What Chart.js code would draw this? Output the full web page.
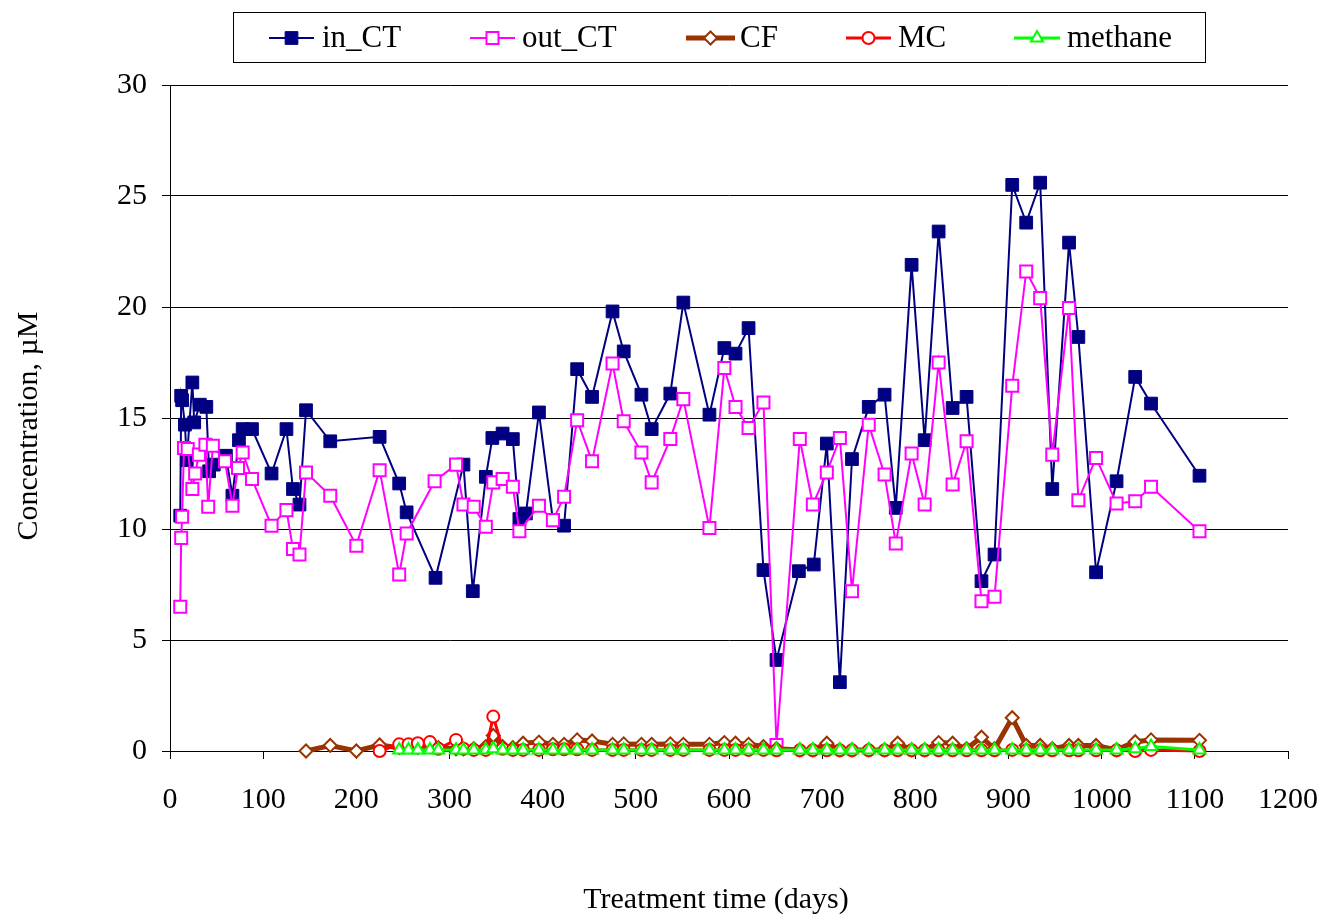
<!DOCTYPE html>
<html><head><meta charset="utf-8">
<script src="https://cdn.jsdelivr.net/npm/chart.js@4.4.1/dist/chart.umd.min.js"></script>
<style>html,body{margin:0;padding:0;background:#fff}canvas{display:block}</style>
</head><body>
<canvas id="c" width="1327" height="918"></canvas>
<script>
// ---------- data ----------
const seriesNames = ['in_CT', 'out_CT', 'CF', 'MC', 'methane'];
const xTickValues = [0, 100, 200, 300, 400, 500, 600, 700, 800, 900, 1000, 1100, 1200];
const yTickValues = [0, 5, 10, 15, 20, 25, 30];
const xTitle = 'Treatment time (days)';
const yTitle = 'Concentration, \u00b5M';

const inDays = [11, 12, 13, 16, 18, 24, 26, 32, 39, 42, 47, 60, 67, 74, 78, 88, 109, 125, 132, 139, 146, 172, 225, 246, 254, 285, 315, 325, 339, 346, 357, 368, 375, 382, 396, 411, 423, 437, 453, 475, 487, 506, 517, 537, 551, 579, 595, 607, 621, 637, 651, 675, 691, 705, 719, 732, 750, 767, 779, 796, 810, 825, 840, 855, 871, 885, 904, 919, 934, 947, 965, 975, 994, 1016, 1036, 1053, 1105];
const inCT = [10.6, 16.0, 15.8, 14.7, 13.1, 16.6, 14.8, 15.6, 15.5, 12.6, 12.9, 13.3, 11.5, 14.0, 14.5, 14.5, 12.5, 14.5, 11.8, 11.1, 15.35, 13.95, 14.15, 12.05, 10.75, 7.8, 12.9, 7.2, 12.35, 14.1, 14.3, 14.05, 10.45, 10.7, 15.25, 10.4, 10.15, 17.2, 15.95, 19.8, 18.0, 16.05, 14.5, 16.1, 20.2, 15.15, 18.15, 17.9, 19.05, 8.15, 4.1, 8.1, 8.4, 13.85, 3.1, 13.15, 15.5, 16.05, 10.95, 21.9, 14.0, 23.4, 15.45, 15.95, 7.65, 8.85, 25.5, 23.8, 25.6, 11.8, 22.9, 18.65, 8.05, 12.15, 16.85, 15.65, 12.4];

const outDays = [11, 12, 13, 15, 19, 24, 27, 31, 38, 41, 46, 59, 67, 73, 78, 88, 109, 125, 132, 139, 146, 172, 200, 225, 246, 254, 284, 307, 315, 326, 339, 347, 357, 368, 375, 396, 411, 423, 437, 453, 475, 487, 506, 517, 537, 551, 579, 595, 607, 621, 637, 651, 676, 690, 705, 719, 732, 750, 767, 779, 796, 810, 825, 840, 855, 871, 885, 904, 919, 934, 947, 965, 975, 994, 1016, 1036, 1053, 1105];
const outCT = [6.5, 9.6, 10.55, 13.65, 13.6, 11.8, 12.5, 13.35, 13.8, 11.0, 13.75, 13.05, 11.05, 12.75, 13.45, 12.25, 10.15, 10.85, 9.1, 8.85, 12.55, 11.5, 9.25, 12.65, 7.95, 9.8, 12.15, 12.9, 11.1, 11.0, 10.1, 12.1, 12.25, 11.9, 9.9, 11.05, 10.4, 11.45, 14.9, 13.05, 17.45, 14.85, 13.45, 12.1, 14.05, 15.85, 10.05, 17.25, 15.5, 14.55, 15.7, 0.27, 14.05, 11.1, 12.55, 14.1, 7.2, 14.7, 12.45, 9.35, 13.4, 11.1, 17.5, 12.0, 13.95, 6.75, 6.95, 16.45, 21.6, 20.4, 13.35, 19.95, 11.3, 13.2, 11.15, 11.25, 11.9, 9.9];

const minorDays = [225, 246, 256, 266, 279, 288, 307, 315, 326, 339, 347, 357, 368, 379, 396, 411, 423, 437, 453, 475, 487, 506, 517, 537, 551, 579, 595, 607, 621, 637, 651, 676, 690, 705, 719, 732, 750, 767, 781, 796, 810, 825, 840, 855, 871, 885, 904, 919, 934, 947, 965, 975, 994, 1016, 1036, 1053, 1105];
const cfEarlyDays = [146, 172, 200];
const cfEarly = [0, 0.25, 0];
const cf = [0.27, 0.15, 0.2, 0.15, 0.2, 0.15, 0.1, 0.1, 0.1, 0.2, 0.7, 0.2, 0.15, 0.35, 0.4, 0.3, 0.3, 0.5, 0.45, 0.3, 0.32, 0.3, 0.3, 0.32, 0.3, 0.3, 0.38, 0.35, 0.3, 0.2, 0.1, 0.05, 0.05, 0.35, 0.05, 0.05, 0.05, 0.05, 0.35, 0.05, 0.05, 0.38, 0.35, 0.1, 0.62, 0.1, 1.5, 0.25, 0.25, 0.1, 0.25, 0.25, 0.25, 0.05, 0.42, 0.5, 0.48];
const mc = [0, 0.3, 0.3, 0.35, 0.4, 0.1, 0.5, 0.1, 0.05, 0.05, 1.55, 0.1, 0.05, 0.05, 0.05, 0.08, 0.08, 0.08, 0.05, 0.05, 0.05, 0.05, 0.05, 0.05, 0.05, 0.05, 0.05, 0.05, 0.05, 0.05, 0.03, 0.03, 0.03, 0.03, 0.03, 0.03, 0.03, 0.03, 0.03, 0.03, 0.03, 0.03, 0.03, 0.03, 0.03, 0.03, 0.05, 0.03, 0.03, 0.03, 0.03, 0.03, 0.03, 0.03, 0, 0.05, 0];
const methane = [null, 0.05, 0.05, 0.05, 0.05, 0.05, 0.05, 0.05, 0.05, 0.05, 0.1, 0.05, 0.05, 0.05, 0.05, 0.05, 0.05, 0.05, 0.05, 0.05, 0.05, 0.05, 0.05, 0.05, 0.05, 0.05, 0.05, 0.05, 0.05, 0.05, 0.05, 0.05, 0.05, 0.05, 0.05, 0.05, 0.05, 0.05, 0.05, 0.05, 0.05, 0.05, 0.05, 0.05, 0.05, 0.05, 0.05, 0.05, 0.05, 0.05, 0.05, 0.05, 0.05, 0.05, 0.1, 0.2, 0.05];

// ---------- build ----------
function pairs(xs, ys) { return xs.map((x, i) => ({x: x, y: ys[i]})); }
const FONT = '"Liberation Serif", "Times New Roman", serif';

const styles = [
  {color: '#000080', fill: '#000080', lw: 2, ps: 'rect', r: 9, bw: 1, order: 5},
  {color: '#FF00FF', fill: '#FFFFFF', lw: 2, ps: 'rect', r: 8.5, bw: 2, order: 4},
  {color: '#993300', fill: '#FFFFFF', lw: 5, ps: 'rectRot', r: 6.5, bw: 2, order: 3},
  {color: '#FF0000', fill: '#FFFFFF', lw: 3, ps: 'circle', r: 6, bw: 2, order: 2},
  {color: '#00FF00', fill: '#FFFFFF', lw: 3, ps: 'triangle', r: 7, bw: 2, order: 1}
];
const seriesData = [
  pairs(inDays, inCT),
  pairs(outDays, outCT),
  pairs(cfEarlyDays.concat(minorDays), cfEarly.concat(cf)),
  pairs(minorDays, mc),
  pairs(minorDays, methane)
];

const datasets = seriesNames.map((name, i) => {
  const s = styles[i];
  return {
    label: name, data: seriesData[i], order: s.order,
    borderColor: s.color, backgroundColor: s.fill, borderWidth: s.lw,
    pointStyle: s.ps, pointRadius: s.r, pointBorderWidth: s.bw,
    pointBorderColor: s.color, pointBackgroundColor: s.fill,
    pointHoverRadius: s.r, tension: 0, clip: false, spanGaps: false
  };
});

function drawMarker(ctx, s, x, y) {
  ctx.save();
  ctx.fillStyle = s.fill; ctx.strokeStyle = s.color; ctx.lineWidth = s.bw;
  ctx.beginPath();
  const r = s.r;
  if (s.ps === 'rect') {
    const h = Math.SQRT1_2 * r;
    ctx.rect(x - h, y - h, 2 * h, 2 * h);
  } else if (s.ps === 'rectRot') {
    ctx.moveTo(x, y - r); ctx.lineTo(x + r, y); ctx.lineTo(x, y + r); ctx.lineTo(x - r, y); ctx.closePath();
  } else if (s.ps === 'circle') {
    ctx.arc(x, y, r, 0, Math.PI * 2);
  } else {
    ctx.moveTo(x, y - r);
    ctx.lineTo(x + r * Math.sin(2 * Math.PI / 3), y - r * Math.cos(2 * Math.PI / 3));
    ctx.lineTo(x + r * Math.sin(4 * Math.PI / 3), y - r * Math.cos(4 * Math.PI / 3));
    ctx.closePath();
  }
  ctx.fill(); ctx.stroke();
  ctx.restore();
}

const legendSlots = [
  {x1: 269, x2: 314, tx: 322},
  {x1: 470, x2: 515, tx: 522},
  {x1: 686, x2: 735, tx: 740},
  {x1: 846, x2: 891, tx: 898},
  {x1: 1014, x2: 1060, tx: 1067}
];

const decor = {
  id: 'decor',
  afterDraw(chart) {
    const ctx = chart.ctx;
    ctx.save();
    // legend box
    ctx.fillStyle = '#fff'; ctx.fillRect(233.5, 12.5, 972, 50);
    ctx.strokeStyle = '#000'; ctx.lineWidth = 1; ctx.strokeRect(233.5, 12.5, 972, 50);
    const ly = 38;
    seriesNames.forEach((name, i) => {
      const s = styles[i], slot = legendSlots[i];
      ctx.strokeStyle = s.color; ctx.lineWidth = s.lw; ctx.lineCap = 'butt';
      ctx.beginPath(); ctx.moveTo(slot.x1, ly); ctx.lineTo(slot.x2, ly); ctx.stroke();
      drawMarker(ctx, s, (slot.x1 + slot.x2) / 2, ly);
      ctx.fillStyle = '#000'; ctx.font = '31px ' + FONT;
      ctx.textAlign = 'left'; ctx.textBaseline = 'middle';
      ctx.fillText(name, slot.tx, ly + 1);
    });
    // axis titles
    ctx.fillStyle = '#000'; ctx.font = '30px ' + FONT;
    ctx.textAlign = 'center'; ctx.textBaseline = 'middle';
    ctx.fillText(xTitle, 716, 900);
    ctx.translate(29, 426); ctx.rotate(-Math.PI / 2);
    ctx.fillText(yTitle, 0, 0);
    ctx.restore();
  }
};

new Chart(document.getElementById('c'), {
  type: 'line',
  data: {datasets: datasets},
  plugins: [decor],
  options: {
    responsive: false, animation: false, devicePixelRatio: 1,
    events: [],
    layout: {padding: {top: 85, right: 39, left: 0, bottom: 0}},
    plugins: {legend: {display: false}, tooltip: {enabled: false}},
    scales: {
      x: {
        type: 'linear', min: xTickValues[0], max: xTickValues[xTickValues.length - 1],
        afterFit: s => { s.height = 167; s.paddingRight = 0; s.paddingLeft = 0; },
        afterBuildTicks: s => { s.ticks = xTickValues.map(v => ({value: v})); },
        ticks: {color: '#000', font: {family: FONT, size: 30}, padding: 23, maxRotation: 0, autoSkip: false,
                callback: v => String(v)},
        grid: {display: true, drawOnChartArea: false, drawTicks: true, tickLength: 8, color: '#000', lineWidth: 1},
        border: {display: true, color: '#000', width: 1}
      },
      y: {
        type: 'linear', min: yTickValues[0], max: yTickValues[yTickValues.length - 1],
        afterFit: s => { s.width = 170; s.paddingTop = 0; s.paddingBottom = 0; },
        afterBuildTicks: s => { s.ticks = yTickValues.map(v => ({value: v})); },
        ticks: {color: '#000', font: {family: FONT, size: 30}, padding: 15, callback: v => String(v)},
        grid: {display: true, drawOnChartArea: true, drawTicks: true, tickLength: 8, color: '#000', lineWidth: 1},
        border: {display: true, color: '#000', width: 1}
      }
    }
  }
});
</script>
</body></html>
